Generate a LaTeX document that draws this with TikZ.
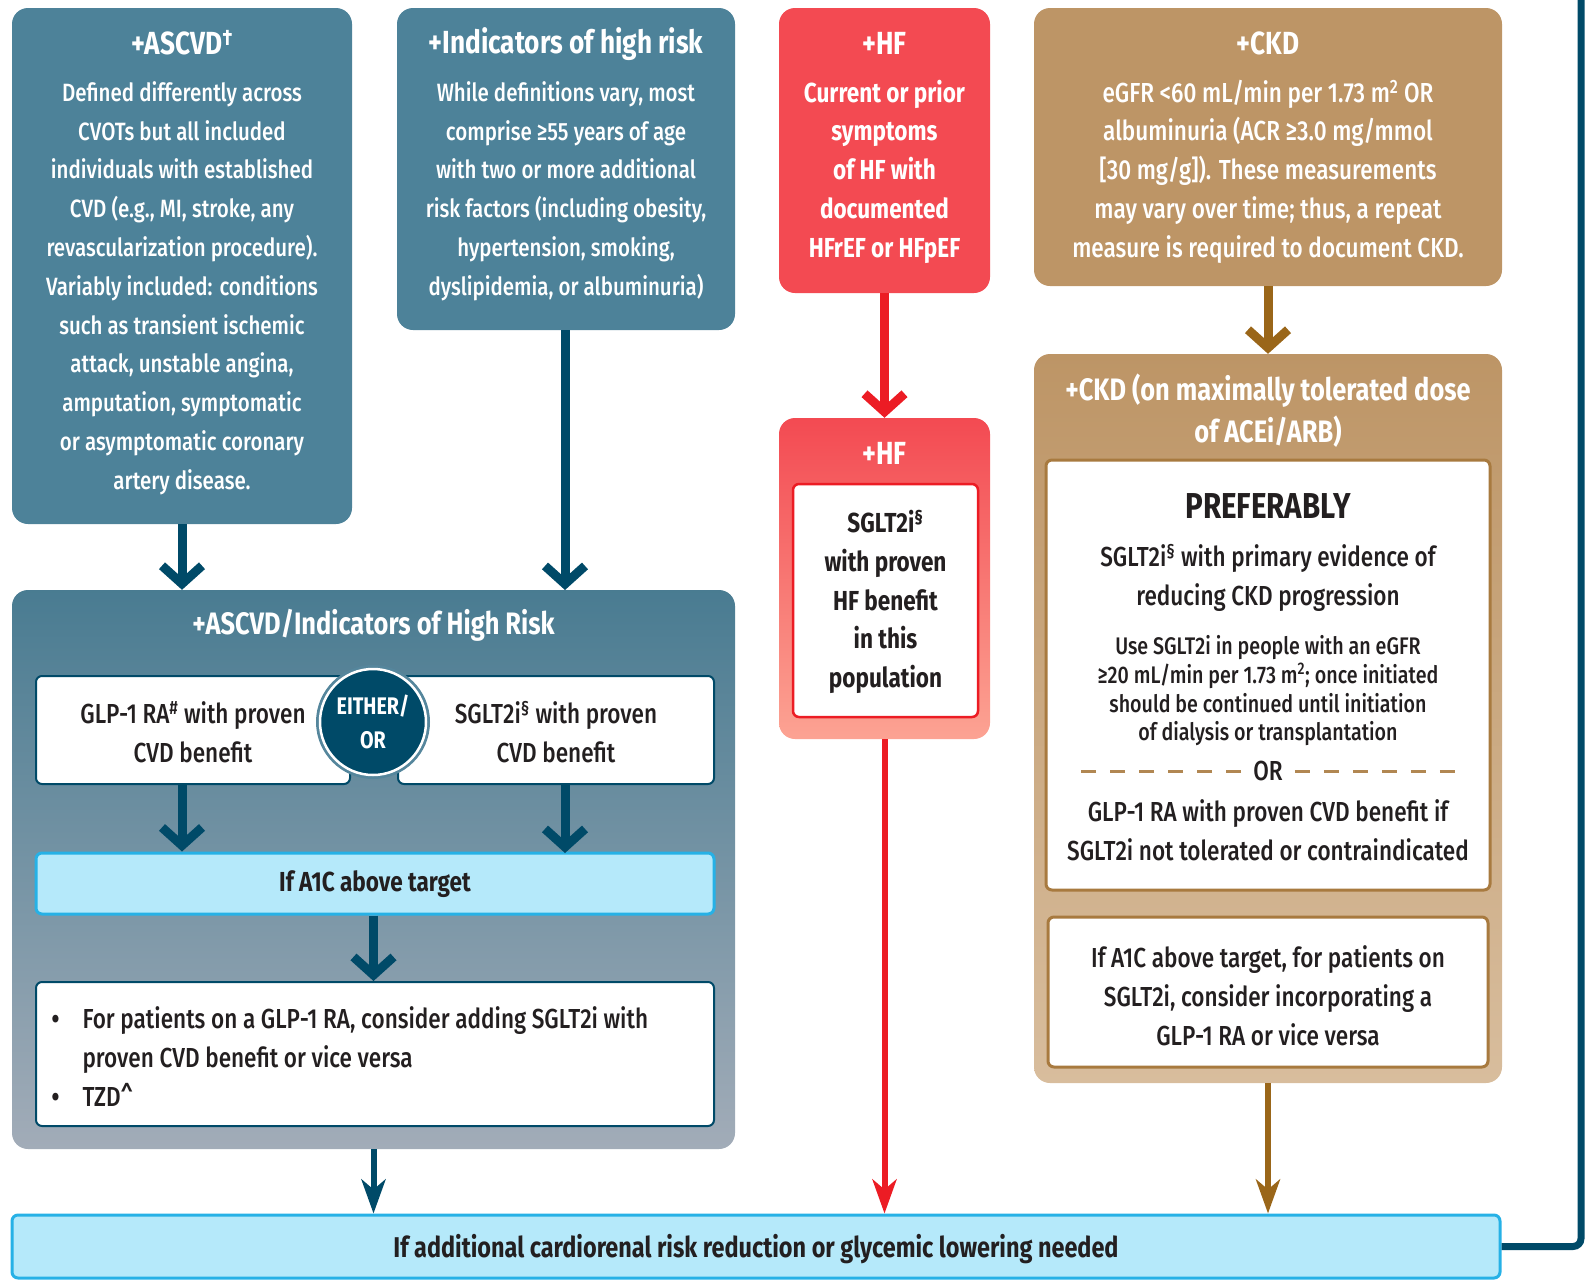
\documentclass[tikz,border=0pt]{standalone}
\usepackage{fontspec}
\setmainfont{Fira Sans}[UprightFont=* Medium, BoldFont=* Bold, FakeStretch=0.82]
\usetikzlibrary{arrows.meta,positioning}

\definecolor{ascvd}{HTML}{4D8299}
\definecolor{navy}{HTML}{004A68}
\definecolor{hfred}{HTML}{F34A52}
\definecolor{hfarrow}{HTML}{EC1C24}
\definecolor{hflight}{HTML}{FCA393}
\definecolor{ckdtan}{HTML}{BD9566}
\definecolor{ckdlight}{HTML}{D8BD9D}
\definecolor{ckdarrow}{HTML}{9A6619}
\definecolor{ckdline}{HTML}{A87A3F}
\definecolor{skyfill}{HTML}{B5E9FA}
\definecolor{skyline}{HTML}{26B1E6}
\definecolor{greyend}{HTML}{A2ACB8}
\definecolor{ink}{HTML}{231F20}

\newcommand\bodyfont{\fontsize{25}{38.8}\selectfont}
\newcommand\largefont{\fontsize{27.5}{38.8}\selectfont}
\newcommand\headfont{\fontsize{32}{42}\selectfont\bfseries}
\newcommand\smallfont{\fontsize{24}{28.7}\selectfont}
\newcommand\prefont{\fontsize{36}{40}\selectfont\bfseries}
\newcommand\dotitem{\makebox[31pt][l]{\bfseries\textbullet}}

\begin{document}
\begin{tikzpicture}[x=1pt, y=-1pt,
                    panel/.style={rounded corners=16pt, inner sep=0pt},
                    card/.style={fill=white, rounded corners=6pt, inner sep=0pt},
                    lightbar/.style={fill=skyfill, draw=skyline, line width=3pt, rounded corners=6pt, inner sep=0pt},
                    wtext/.style={text=white, align=center, font=\bodyfont},
                    dtext/.style={text=ink, align=center, font=\largefont},
                    whead/.style={text=white, align=center, font=\headfont},
                    chev/.style={line width=9pt, -{Straight Barb[length=18pt,width=40pt]}},
                    drop/.style={line width=6pt, -{Stealth[length=34pt,width=24pt,inset=10pt]}},
                    ordash/.style={ckdline!90!white, line width=3pt, dash pattern=on 15pt off 14pt}]
  \useasboundingbox (0,0) rectangle (1587,1282);

  % top row
  \node (ascvd) [panel, fill=ascvd, minimum width=340pt, minimum height=516pt] at (182,266) {};
  \node (ascvd_t) [whead] at (182,43) {+ASCVD\textsuperscript{\textdagger}};
  \node (ascvd_b) [wtext] at (182,288) {Defined differently across\\CVOTs but all included\\individuals with established\\CVD (e.g., MI, stroke, any\\revascularization procedure).\\Variably included: conditions\\such as transient ischemic\\attack, unstable angina,\\amputation, symptomatic\\or asymptomatic coronary\\artery disease.};

  \node (risk) [panel, fill=ascvd, minimum width=338pt, minimum height=322pt] at (566,169) {};
  \node (risk_t) [whead] at (566,44) {+Indicators of high risk};
  \node (risk_b) [wtext] at (566,191) {While definitions vary, most\\comprise ≥55 years of age\\with two or more additional\\risk factors (including obesity,\\hypertension, smoking,\\dyslipidemia, or albuminuria)};

  \node (hf) [panel, fill=hfred, minimum width=211pt, minimum height=285pt] at (884.5,150.5) {};
  \node (hf_t) [whead] at (884.5,43) {+HF};
  \node (hf_b) [wtext, font=\largefont\bfseries] at (884.5,171.5) {Current or prior\\symptoms\\of HF with\\documented\\HFrEF or HFpEF};

  \node (ckd) [panel, fill=ckdtan, minimum width=468pt, minimum height=278pt] at (1268,147) {};
  \node (ckd_t) [whead] at (1268,43) {+CKD};
  \node (ckd_b) [wtext, font=\largefont] at (1268,171.5) {eGFR <60 mL/min per 1.73 m\textsuperscript{2} OR\\albuminuria (ACR ≥3.0 mg/mmol\\{[}30 mg/g{]}). These measurements\\may vary over time; thus, a repeat\\measure is required to document CKD.};

  % ASCVD / high risk panel
  \node (combo) [panel, top color=ascvd!95!black, bottom color=greyend, minimum width=723pt, minimum height=559pt] at (373.5,869.5) {};
  \node (combo_t) [whead, font=\fontsize{31}{40}\selectfont\bfseries] at (373.5,625.5) {+ASCVD/Indicators of High Risk};
  \node (glp) [card, draw=navy, line width=2pt, minimum width=314pt, minimum height=108pt] at (193,730) {};
  \node (glp_b) [dtext] at (193,732) {GLP-1 RA\textsuperscript{\#} with proven\\CVD benefit};
  \node (sglt) [card, draw=navy, line width=2pt, minimum width=316pt, minimum height=108pt] at (556,730) {};
  \node (sglt_b) [dtext] at (556,732) {SGLT2i\textsuperscript{\S} with proven\\CVD benefit};
  \node (gap) [circle, fill=ascvd!90!greyend, minimum size=114pt, inner sep=0pt] at (373,722) {};
  \node (either) [circle, fill=navy, draw=white, line width=2.5pt, minimum size=106pt, inner sep=0pt,
                  text=white, align=center, font=\fontsize{24}{34}\selectfont\bfseries] at (373,722) {EITHER/\\OR};
  \node (a1c) [lightbar, minimum width=678pt, minimum height=61pt] at (375,883.5) {};
  \node (a1c_b) [dtext, font=\largefont\bfseries] at (375,884.5) {If A1C above target};
  \node (tips) [card, draw=navy, line width=2pt, minimum width=678pt, minimum height=144pt] at (375,1054) {};
  \node (tips_b) [dtext, align=left, anchor=west] at (48,1056.6) {\dotitem For patients on a GLP-1 RA, consider adding SGLT2i with\\\hspace*{31pt}proven CVD benefit or vice versa\\\dotitem TZD\textasciicircum};

  % HF panel
  \node (hf2) [panel, top color=hfred, bottom color=hflight, minimum width=211pt, minimum height=321pt] at (884.5,578.5) {};
  \node (hf2_t) [whead] at (884.5,453) {+HF};
  \node (hf2_c) [card, draw=hfarrow, line width=2.5pt, minimum width=185pt, minimum height=233pt] at (885.5,600.5) {};
  \node (hf2_b) [dtext, font=\largefont\bfseries] at (885.5,602) {SGLT2i\textsuperscript{\S}\\with proven\\HF benefit\\in this\\population};

  % CKD panel
  \node (ckd2) [panel, top color=ckdtan, bottom color=ckdlight, minimum width=468pt, minimum height=729pt] at (1268,718.5) {};
  \node (ckd2_t) [whead, font=\fontsize{31}{42}\selectfont\bfseries] at (1268,411) {+CKD (on maximally tolerated dose\\of ACEi/ARB)};
  \node (pref) [card, draw=ckdline, line width=3pt, minimum width=444pt, minimum height=430pt] at (1268,675) {};
  \node (pref_t) [text=ink, font=\prefont] at (1268,506) {PREFERABLY};
  \node (pref_a) [dtext] at (1268,578) {SGLT2i\textsuperscript{\S} with primary evidence of\\reducing CKD progression};
  \node (pref_n) [dtext, font=\smallfont] at (1268,690.7) {Use SGLT2i in people with an eGFR\\≥20 mL/min per 1.73 m\textsuperscript{2}; once initiated\\should be continued until initiation\\of dialysis or transplantation};
  \node (pref_or) [dtext, inner xsep=12pt] at (1268,771) {OR};
  \node (pref_b) [dtext] at (1268,830) {GLP-1 RA with proven CVD benefit if\\SGLT2i not tolerated or contraindicated};
  \node (ckd_a1c) [card, draw=ckdline, line width=3pt, minimum width=440pt, minimum height=150pt] at (1268,992) {};
  \node (ckd_a1c_b) [dtext] at (1268,996) {If A1C above target, for patients on\\SGLT2i, consider incorporating a\\GLP-1 RA or vice versa};
  \draw[ordash] (pref_or.east) -- ++(174,0);
  \draw[ordash] (pref_or.west) -- ++(-174,0);

  % bottom bar
  \node (more) [lightbar, minimum width=1488pt, minimum height=63pt] at (756,1246.5) {};
  \node (more_b) [dtext, font=\fontsize{28.6}{38}\selectfont\bfseries] at (756,1249) {If additional cardiorenal risk reduction or glycemic lowering needed};
  \coordinate (exit) at (1581,-6);

  % connectors
  \draw[chev, navy] (ascvd.south) -- (ascvd.south |- combo.north);
  \draw[chev, navy] (risk.south -| 565,0) -- (565,590);
  \draw[chev, navy] (ascvd.south |- glp.south) -- (ascvd.south |- a1c.north);
  \draw[chev, navy] (565,784) -- (565,853);
  \draw[chev, navy] (a1c.south -| combo.center) -- (tips.north -| combo.center);
  \draw[chev, hfarrow] (hf.south) -- (hf2.north);
  \draw[chev, ckdarrow] (ckd.south) -- (ckd2.north);
  \draw[drop, navy] (combo.south) -- (combo.south |- more.north);
  \draw[drop, hfarrow] (hf2.south) -- (hf2.south |- more.north);
  \draw[drop, ckdarrow] (ckd2.south) -- (ckd2.south |- more.north);
  \draw[navy, line width=7pt, rounded corners=8pt] (more.east) -- (more.east -| exit) -- (exit);
\end{tikzpicture}
\end{document}
